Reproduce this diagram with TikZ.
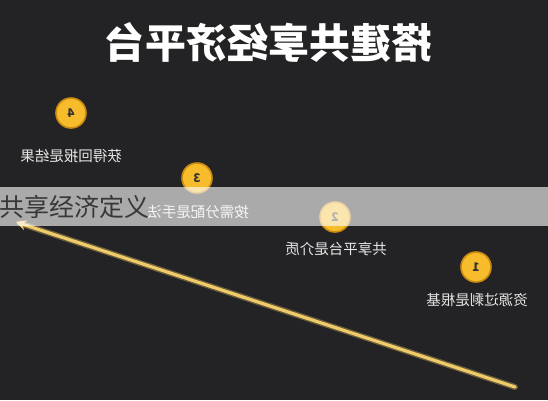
\documentclass[tikz,border=0pt]{standalone}
\usepackage{fontspec}
\usetikzlibrary{arrows.meta}
\newfontfamily\cjk{Noto Sans CJK SC}
\definecolor{bg}{HTML}{232224}
\definecolor{coin}{HTML}{F6BC2C}
\definecolor{coinring}{HTML}{C98A12}
\definecolor{arrowc}{HTML}{EFCB6A}
\definecolor{labc}{HTML}{E6E6E6}
\begin{document}
\begin{tikzpicture}[x=1pt,y=-1pt,
  coinnode/.style={circle,fill=coin,draw=coinring,line width=1.6pt,minimum size=30pt,inner sep=0pt,
    font=\cjk\bfseries\fontsize{12}{12}\selectfont,text=black!80},
  labnode/.style={font=\cjk\fontsize{14.5}{15}\selectfont,text=labc,inner sep=0pt},
  ttl/.style={font=\cjk\bfseries\fontsize{41}{41}\selectfont,text=white,inner sep=0pt}]
\fill[bg] (0,0) rectangle (548,400);
\useasboundingbox (0,0) rectangle (548,400);
% title (mirrored)
\node[ttl] (title) at (268,42) {\reflectbox{搭建共享经济平台}};
% coins
\node[coinnode] (c4) at (71,113) {\reflectbox{4}};
\node[coinnode] (c3) at (197,178) {\reflectbox{3}};
\node[coinnode] (c2) at (335,217) {\reflectbox{2}};
\node[coinnode] (c1) at (476,267) {\reflectbox{1}};
% labels (mirrored)
\node[labnode] (l4) at (71,156) {\reflectbox{获得回报是结果}};
\node[labnode] (l3) at (198,212) {\reflectbox{按需分配是手法}};
\node[labnode] (l2) at (336,249) {\reflectbox{共享平台是介质}};
\node[labnode] (l1) at (477,300) {\reflectbox{资源过剩是根基}};
% arrow
\coordinate (atail) at (515,387);
\coordinate (ahead) at (16,222);
\draw[arrowc!35!bg,line width=6pt,line cap=round,shorten >=4pt] (atail) -- (ahead);
\draw[arrowc,line width=3.2pt,line cap=round,-{Stealth[length=10pt,width=10pt]}] (atail) -- (ahead);
% translucent band
\fill[white,opacity=0.62] (0,187) rectangle (548,226);
\node[font=\cjk\fontsize{25}{25}\selectfont,text=black!78,anchor=west,inner sep=0pt] (band) at (-1,207) {共享经济定义};
\end{tikzpicture}
\end{document}
